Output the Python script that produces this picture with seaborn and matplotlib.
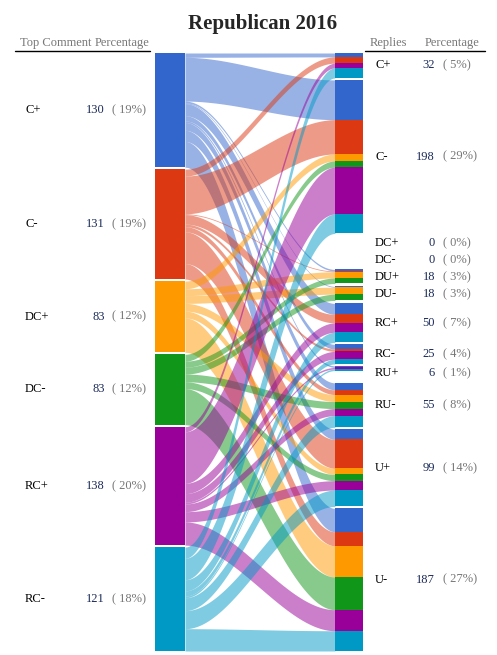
import numpy as np
import matplotlib
matplotlib.use("Agg")
import matplotlib.pyplot as plt
import seaborn as sns

sources = ["C+", "C-", "DC+", "DC-", "RC+", "RC-"]
src_counts = [130, 131, 83, 83, 138, 121]
src_pcts = [19, 19, 12, 12, 20, 18]
targets = ["C+", "C-", "DC+", "DC-", "DU+", "DU-", "RC+", "RC-", "RU+", "RU-", "U+", "U-"]
tgt_counts = [32, 198, 0, 0, 18, 18, 50, 25, 6, 55, 99, 187]
tgt_pcts = [5, 29, 0, 0, 3, 3, 7, 4, 1, 8, 14, 27]
colors = ["#3366cc", "#dc3912", "#ff9900", "#109618", "#990099", "#0099c6"]
# flows[source][target]
flows = np.array([
    [5, 51, 0, 0, 2, 1, 14, 6, 2, 9, 13, 30],
    [8, 44, 0, 0, 1, 0, 11, 3, 0, 6, 37, 18],
    [0, 9, 0, 0, 8, 9, 0, 0, 0, 9, 8, 40],
    [0, 8, 0, 0, 7, 8, 0, 0, 0, 9, 8, 42],
    [6, 60, 0, 0, 0, 0, 12, 10, 2, 9, 12, 27],
    [13, 25, 0, 0, 0, 0, 13, 6, 2, 15, 21, 26],
])

sns.set_theme(style="white")
plt.rcParams['font.family'] = ['Liberation Serif', 'DejaVu Serif']

fig = plt.figure(figsize=(4.97, 6.55), dpi=100)
ax = fig.add_axes([0, 0, 1, 1])
ax.set_xlim(0, 497); ax.set_ylim(655, 0); ax.axis("off")

top, bottom, gap = 53, 651, 2
xl0, xl1, xr0, xr1 = 155, 185, 335, 363

# left layout
L = flows.sum(1)
kL = (bottom - top - gap * (len(L) - 1)) / L.sum()
ly = []
y = top
for v in L:
    ly.append(y); y += v * kL + gap
# right layout with minimum slot
R = flows.sum(0)
hmin = 15
def heights(k):
    return np.maximum(R * k, hmin)
k = 1.0
for _ in range(60):
    tot = heights(k).sum() + gap * (len(R) - 1)
    k *= (bottom - top - (hmin * (R * k < hmin)).sum() - gap * (len(R) - 1)) / max((R * k * (R * k >= hmin)).sum(), 1e-9)
kR = k
hR = heights(kR)
ry = []
y = top
for h in hR:
    ry.append(y); y += h + gap

# flows
loff = [0.0] * len(L)
roff = [0.0] * len(R)
lstart = {}
for i in range(len(L)):
    for j in range(len(R)):
        v = flows[i, j]
        if v <= 0: continue
        lstart[(i, j)] = ly[i] + loff[i]; loff[i] += v * kL
rstart = {}
for j in range(len(R)):
    for i in range(len(L)):
        v = flows[i, j]
        if v <= 0: continue
        rstart[(i, j)] = ry[j] + roff[j]; roff[j] += v * kR
xs = np.linspace(xl1, xr0, 80)
t = (xs - xl1) / (xr0 - xl1)
s = 3 * t ** 2 - 2 * t ** 3
for (i, j), y0 in lstart.items():
    v = flows[i, j]
    y1 = rstart[(i, j)]
    topc = y0 + (y1 - y0) * s
    botc = (y0 + v * kL) + ((y1 + v * kR) - (y0 + v * kL)) * s
    ax.fill_between(xs, topc, botc, color=colors[i], alpha=0.5, lw=0)
    ax.add_patch(plt.Rectangle((xr0, y1), xr1 - xr0, v * kR, color=colors[i], lw=0))

for i in range(len(L)):
    ax.add_patch(plt.Rectangle((xl0, ly[i]), xl1 - xl0, L[i] * kL, color=colors[i], lw=0))

# labels
navy = "#1a2a5a"; gray = "#777777"
fs = 9
for i, name in enumerate(sources):
    yc = ly[i] + L[i] * kL / 2
    ax.text(25, yc, name, fontsize=fs, va="center", color="black")
    ax.text(105, yc, str(src_counts[i]), fontsize=fs, va="center", ha="right", color=navy)
    ax.text(112, yc, f"( {src_pcts[i]}%)", fontsize=fs, va="center", color=gray)
lab = []
prev = -1e9
for j in range(len(R)):
    yc = ry[j] + (R[j] * kR if R[j] * kR >= hmin else hmin) / 2
    yc = max(yc, prev + 16.5); prev = yc; lab.append(yc)
for j, name in enumerate(targets):
    ax.text(375, lab[j], name, fontsize=fs, va="center", color="black")
    ax.text(435, lab[j], str(tgt_counts[j]), fontsize=fs, va="center", ha="right", color=navy)
    ax.text(443, lab[j], f"( {tgt_pcts[j]}%)", fontsize=fs, va="center", color=gray)

ax.text(20, 43, "Top Comment", fontsize=fs, color=gray, va="center")
ax.text(95, 43, "Percentage", fontsize=fs, color=gray, va="center")
ax.text(370, 43, "Replies", fontsize=fs, color=gray, va="center")
ax.text(425, 43, "Percentage", fontsize=fs, color=gray, va="center")
ax.plot([15, 150], [51, 51], color="black", lw=1)
ax.plot([365, 485], [51, 51], color="black", lw=1)
ax.text(263, 24, "Republican 2016", fontsize=15, fontweight="bold", ha="center", va="center")

fig.savefig("out.png", dpi=100)
